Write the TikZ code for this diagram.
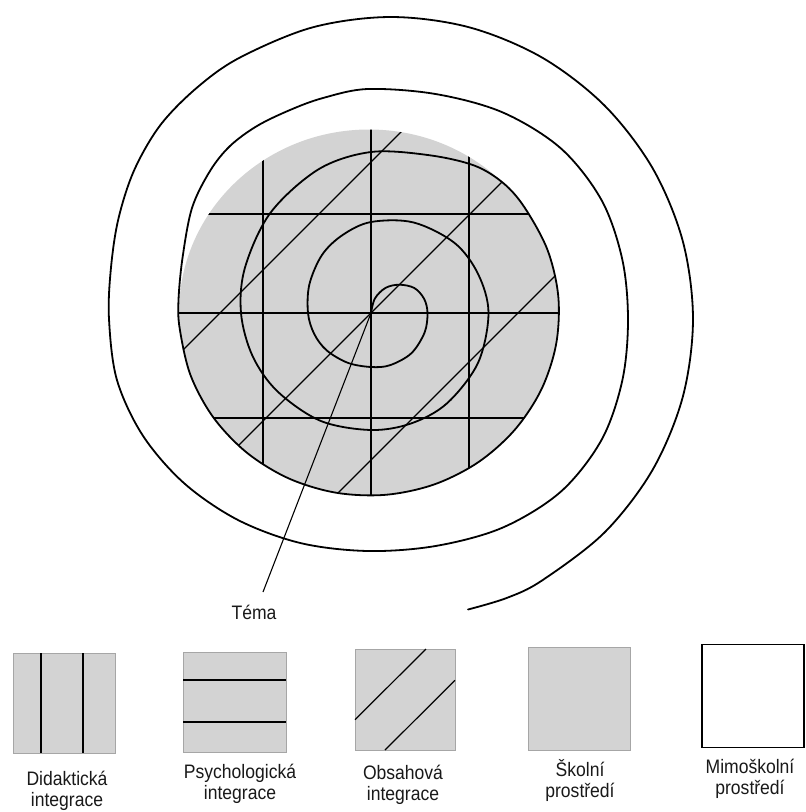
\documentclass[tikz,border=0pt]{standalone}
\usepackage{fontspec}
\setmainfont{Liberation Sans}
\newfontfamily\capfont[FakeStretch=0.9]{Liberation Sans}
\usetikzlibrary{calc}
\definecolor{discgray}{RGB}{211,211,211}
\definecolor{inkgray}{RGB}{25,25,25}
\begin{document}
\begin{tikzpicture}[x=1pt,y=-1pt,
  spiralline/.style={line width=1.8pt, line cap=round, line join=round},
  gridline/.style={line width=1.25pt},
  legendline/.style={line width=1.2pt},
  legendbox/.style={fill=discgray, draw=black!35, line width=0.6pt,
    inner sep=0pt, outer sep=0pt},
  emptybox/.style={fill=white, draw=black, line width=1.4pt,
    inner sep=0pt, outer sep=0pt},
  caption/.style={font=\capfont\fontsize{19.5}{21}\selectfont, text=inkgray,
    align=center, anchor=north, inner sep=0pt},
]
\useasboundingbox (0,0) rectangle (806,812);
\fill[white] (0,0) rectangle (806,812);

% centre of the spiral and of the grid
\coordinate (C) at (371,313);

% school environment: the grey disc
\fill[discgray] (369,312.5) ellipse [x radius=190, y radius=183];

% integration grid, clipped to the disc
\begin{scope}
  \clip (369,312.5) ellipse [x radius=190, y radius=183];
  % didactic integration (vertical)
  \draw[gridline] (263,100) -- (263,520);
  \draw[gridline] (371,100) -- (371,520);
  \draw[gridline] (469,100) -- (469,520);
  % psychological integration (horizontal)
  \draw[gridline] (150,214) -- (600,214);
  \draw[gridline] (150,313) -- (600,313);
  \draw[gridline] (150,418) -- (600,418);
  % content integration (diagonal)
  \draw[gridline] (150,383) -- (450,83);
  \draw[gridline] (200,484) -- (560,124);
  \draw[gridline] (300,531) -- (600,231);
\end{scope}

% the spiral growing out of the theme
\draw[spiralline] plot[smooth, tension=0.55] coordinates {
  (371,313) (374.9,298.5) (385.5,287.9) (399.3,284.7) (414.3,288)
  (424.1,298.8) (427.5,313) (424.6,332.5) (411.3,353.3) (390,365.2)
  (371,367) (347.8,362.8) (326.6,350.3) (314.1,333.7) (308,313)
  (309.4,284.3) (322.1,254.8) (342.6,235) (371,222) (413.3,222.4)
  (454.5,242.9) (478.1,274) (488.5,313) (478,362.9) (446.9,403.4)
  (411.2,423.4) (371,430) (320.7,420.9) (277.5,391.4) (252.6,356.1)
  (241,313) (245.1,267.2) (270.6,212.6) (318.7,169.2) (371,152)
  (428.5,155.1) (474.2,165.5) (503.3,183.1) (524.6,207.5) (547.5,249.9)
  (558.3,296.5) (556.1,344.3) (541.2,389.8) (514.5,430.1) (478.0,462.4)
  (434.0,484.5) (385.6,494.8) (336.0,492.7) (288.7,478.4) (246.9,452.7)
  (213.4,417.5) (190.5,375.1) (179.7,328.5) (178.5,300) (182.5,258)
  (192,208) (210,171) (230,146) (257,126) (290,110) (323,98)
  (368,89) (436.1,94.1) (502.9,112.5) (561,148.5) (601.6,200.2)
  (622.3,259.5) (628,320) (622.3,380.5) (601.6,439.8) (561,491.5)
  (502.9,527.5) (436.1,545.9) (368,551) (300.7,543.1) (238,520)
  (184.2,483.3) (142.8,435.5) (116.9,379.8) (109,319) (110.8,269.6)
  (118.2,219.7) (134,170.6) (160.2,125.3) (196.9,87.7) (240,57.5)
  (312.8,27.3) (391,17) (469.2,27.3) (542,57.5) (604.5,105.5)
  (652.5,168) (682.7,240.8) (693,319) (682.7,397.2) (652.5,470)
  (604.5,532.5) (542,580.5) (506.6,598) (468,609.5)
};

% theme label and its pointer
\node[font=\capfont\fontsize{19.5}{21}\selectfont, text=inkgray, anchor=base,
  inner sep=0pt] (tema) at (254,619.5) {Téma};
\coordinate (temaend) at (263,592);
\draw[line width=1.1pt] (C) -- (temaend);

% legend boxes
\node[legendbox, minimum width=102pt, minimum height=100pt] (b1) at (64,703) {};
\node[legendbox, minimum width=103pt, minimum height=100pt] (b2) at (234.5,702) {};
\node[legendbox, minimum width=100pt, minimum height=101pt] (b3) at (405,699.5) {};
\node[legendbox, minimum width=102pt, minimum height=103pt] (b4) at (579,698.5) {};
\node[emptybox, minimum width=102pt, minimum height=103pt] (b5) at (753,696) {};

\draw[legendline] ($(b1.north west)!0.275!(b1.north east)$) -- ($(b1.south west)!0.275!(b1.south east)$);
\draw[legendline] ($(b1.north west)!0.686!(b1.north east)$) -- ($(b1.south west)!0.686!(b1.south east)$);
\draw[legendline] ($(b2.north west)!0.28!(b2.south west)$) -- ($(b2.north east)!0.28!(b2.south east)$);
\draw[legendline] ($(b2.north west)!0.70!(b2.south west)$) -- ($(b2.north east)!0.70!(b2.south east)$);
\draw[legendline] ($(b3.north west)!0.70!(b3.south west)$) -- ($(b3.north west)!0.71!(b3.north east)$);
\draw[legendline] ($(b3.south west)!0.30!(b3.south east)$) -- ($(b3.north east)!0.31!(b3.south east)$);

% legend captions
\node[caption] (l1) at (67,771) {Didaktická\\integrace};
\node[caption] (l2) at (240,764) {Psychologická\\integrace};
\node[caption] (l3) at (403,765) {Obsahová\\integrace};
\node[caption] (l4) at (580,759) {Školní\\prostředí};
\node[caption] (l5) at (750,759) {Mimoškolní\\prostředí};
\end{tikzpicture}
\end{document}
